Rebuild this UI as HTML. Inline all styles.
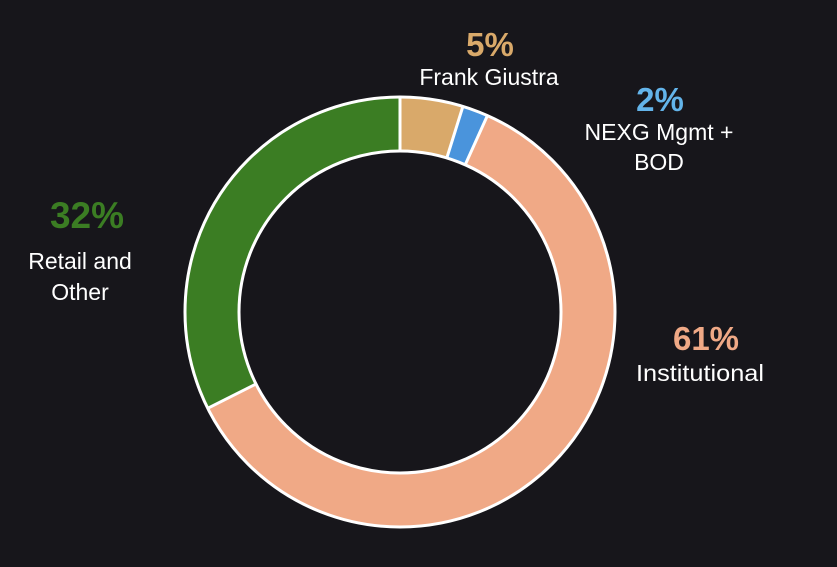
<!DOCTYPE html>
<html><head><meta charset="utf-8"><style>
html,body{margin:0;padding:0;background:#17161b;}
svg{display:block}
text{font-family:"Liberation Sans",sans-serif;}
</style></head><body>
<svg width="837" height="567" viewBox="0 0 837 567">
<rect width="837" height="567" fill="#17161b"/>
<g transform="rotate(-90 400 312)" fill="none" stroke-width="54">
<circle cx="400" cy="312" r="188" stroke="#d9a96a" stroke-dasharray="55.8 2000" stroke-dashoffset="0"/>
<circle cx="400" cy="312" r="188" stroke="#4a94dc" stroke-dasharray="23 2000" stroke-dashoffset="-55.8"/>
<circle cx="400" cy="312" r="188" stroke="#f0a986" stroke-dasharray="720 2000" stroke-dashoffset="-78.8"/>
<circle cx="400" cy="312" r="188" stroke="#3b7d23" stroke-dasharray="383 2000" stroke-dashoffset="-798.8"/>
</g>
<circle cx="400" cy="312" r="215" fill="none" stroke="#fff" stroke-width="3"/>
<circle cx="400" cy="312" r="161" fill="none" stroke="#fff" stroke-width="3"/>
<g stroke="#fff" stroke-width="3">
<line x1="400" y1="151" x2="400" y2="97"/>
<line x1="446.8" y1="158" x2="462.9" y2="106.4"/>
<line x1="465.1" y1="165" x2="487.4" y2="115.6"/>
<line x1="256" y1="384" x2="207.7" y2="408.3"/>
</g>
<g text-anchor="middle">
<text x="490" y="56" font-size="33" font-weight="bold" fill="#d9a96a">5%</text>
<text x="489" y="85" font-size="23" fill="#fff">Frank Giustra</text>
<text x="660" y="111" font-size="33" font-weight="bold" fill="#63b4ea">2%</text>
<text x="659" y="140" font-size="23" fill="#fff">NEXG Mgmt +</text>
<text x="659" y="170" font-size="23" fill="#fff">BOD</text>
<text x="87" y="228" font-size="37" font-weight="bold" fill="#3b7d23">32%</text>
<text x="80" y="269" font-size="23" fill="#fff">Retail and</text>
<text x="80" y="300" font-size="23" fill="#fff">Other</text>
<text x="706" y="350" font-size="33" font-weight="bold" fill="#f0a986">61%</text>
<text x="700" y="381" font-size="23" fill="#fff" textLength="128" lengthAdjust="spacingAndGlyphs">Institutional</text>
</g>
</svg>
</body></html>
